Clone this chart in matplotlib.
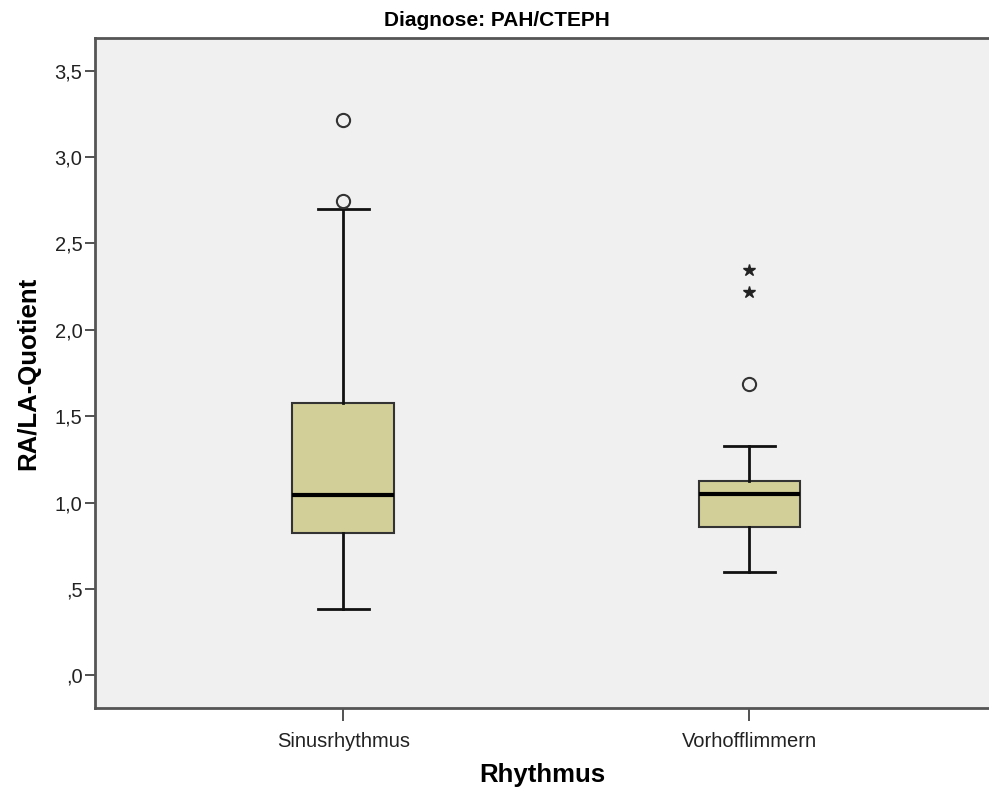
import matplotlib
matplotlib.use("Agg")
import matplotlib.pyplot as plt
from matplotlib.ticker import FuncFormatter

plt.rcParams['font.family'] = ['Liberation Sans', 'DejaVu Sans']

categories = ["Sinusrhythmus", "Vorhofflimmern"]
q1 = [0.823, 0.859]
medians = [1.045, 1.049]
q3 = [1.576, 1.126]
whisker_low = [0.382, 0.599]
whisker_high = [2.70, 1.329]
outliers_circle = [[2.746, 3.215], [1.686]]
outliers_star = [[], [2.217, 2.346]]

title = "Diagnose: PAH/CTEPH"
xlabel = "Rhythmus"
ylabel = "RA/LA-Quotient"
yticks = [0.0, 0.5, 1.0, 1.5, 2.0, 2.5, 3.0, 3.5]

fig = plt.figure(figsize=(9.89, 7.89), dpi=100)
ax = fig.add_axes([95/989, 81/789, 1 - 95/989, (708-38)/789])
ax.set_facecolor('#f0f0f0')

positions = [1, 2]
stats = []
for i, c in enumerate(categories):
    stats.append(dict(label=c, q1=q1[i], med=medians[i], q3=q3[i],
                      whislo=whisker_low[i], whishi=whisker_high[i],
                      fliers=outliers_circle[i]))

ax.bxp(stats, positions=positions, widths=0.25, patch_artist=True,
       boxprops=dict(facecolor='#d3cf98', edgecolor='#333333', linewidth=1.5),
       medianprops=dict(color='black', linewidth=3),
       whiskerprops=dict(color='#111111', linewidth=2),
       capprops=dict(color='#111111', linewidth=2),
       capwidths=0.125,
       flierprops=dict(marker='o', markersize=9.5, markerfacecolor='none',
                       markeredgecolor='#333333', markeredgewidth=1.5),
       zorder=3)

for i, vals in enumerate(outliers_star):
    if vals:
        ax.plot([positions[i]] * len(vals), vals, linestyle='none', marker='*',
                markersize=9, color='#222222', zorder=4)

ax.set_xlim(0.389, 2.59)
ax.set_ylim(-0.19, 3.69)
ax.set_yticks(yticks)

def fmt(v, pos):
    s = f"{v:.1f}".replace('.', ',')
    if s.startswith('0'):
        s = s[1:]
    return s

ax.yaxis.set_major_formatter(FuncFormatter(fmt))
ax.set_xticks(positions)
ax.set_xticklabels(categories)

for side in ['left', 'bottom', 'top']:
    ax.spines[side].set_color('#555555')
    ax.spines[side].set_linewidth(2)
ax.spines['right'].set_visible(False)

ax.tick_params(axis='y', length=7, width=1.2, color='#333333', labelsize=14.5, labelcolor='#222222', pad=2)
ax.tick_params(axis='x', length=9, width=1.2, color='#333333', labelsize=14.5, labelcolor='#222222', pad=8)

fig.text(497/989, 1 - 20/789, title, fontsize=15, fontweight='bold',
         ha='center', va='center')
ax.set_xlabel(xlabel, fontsize=18.5, fontweight='bold', labelpad=9)
ax.set_ylabel(ylabel, fontsize=18.5, fontweight='bold', labelpad=10)

fig.savefig("out.png", dpi=100)
